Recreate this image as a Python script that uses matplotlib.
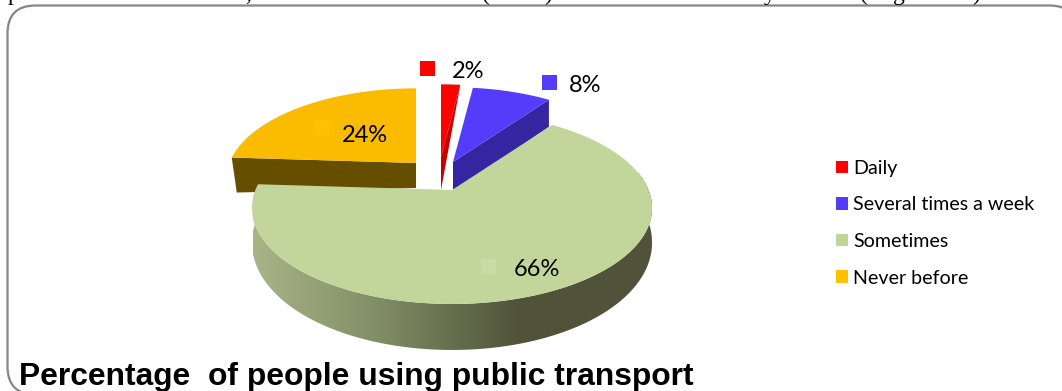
from matplotlib import pyplot as plt
from matplotlib.patches import FancyBboxPatch, Patch, Polygon
from matplotlib.colors import LinearSegmentedColormap
import numpy as np

categories = ["Daily", "Several times a week", "Sometimes", "Never before"]
shares = [2, 8, 66, 24]
labels = ["2%", "8%", "66%", "24%"]
colors = ["#FF0000", "#533DFB", "#C2D69B", "#FBBB00"]
side_colors = ["#C80000", "#3525A0", None, "#664E00"]

#screen position of the pie, in pixels
cx, cy = 452, 190
rx, ry = 196.5, 92.6
persp = 0.1875

#how far each slice is pulled out, size of the slice, depth at centre and at rim
shift_x = [-11, 1, 0, -36]
shift_y = [-33, -28, 0, -27]
scale = [0.92, 0.95, 1.0, 0.95]
depth_in = [33, 30, 30, 25]
depth_out = [0, 27, 30, 35]

#label position and position of the little key square
label_x = [468, 585, 537, 365]
label_y = [71, 86, 269, 136]
key_x = [427, 549, 488, 321]
key_y = [68, 82, 266, 127]
key_colors = ["#FF0000", "#533DFB", "#C8DBA4", "#FFC000"]

def project(t, s=1.0):
	#t is clockwise from the back of the pie, in radians
	px = np.sin(t) * s
	py = -np.cos(t) * s
	d = 1 - persp * py
	return rx * px / d, ry * py / d, py

def wedge(i, a0, a1):
	t = np.linspace(a0, a1, 120)
	x, y, py = project(t, scale[i])
	return x + cx + shift_x[i], y + cy + shift_y[i]

def draw_flat_slice(ax, i, a0, a1):
	x, y = wedge(i, a0, a1)
	ox, oy = cx + shift_x[i], cy + shift_y[i]
	if i == 3:
		#side of the yellow slice, the cut edge facing front
		side = [(ox, oy), (x[0], y[0]), (x[0] + 5, y[0] + depth_out[i]), (ox, oy + depth_in[i])]
	else:
		#side on the right hand cut edge
		side = [(ox, oy), (x[-1], y[-1]), (x[-1], y[-1] + depth_out[i]), (ox, oy + depth_in[i])]
	ax.add_patch(Polygon(side, closed=True, fc=side_colors[i], ec="none", zorder=2))
	top = np.column_stack([np.r_[ox, x], np.r_[oy, y]])
	ax.add_patch(Polygon(top, closed=True, fc=colors[i], ec="none", zorder=3))

def draw_big_slice(ax, i, a0, a1):
	#front wall first, with left to right shading
	t = np.linspace(np.pi * 0.44, a1, 200)
	x, y, py = project(t)
	x = x + cx
	y = y + cy
	low = y + 32 + 14 * py
	wall = np.column_stack([np.r_[x, x[::-1]], np.r_[y, low[::-1]]])
	shade = LinearSegmentedColormap.from_list("wall", ["#505339", "#505339", "#7E8A62", "#A9B587"])
	grad = np.linspace(0, 1, 256).reshape(1, -1)
	im = ax.imshow(grad, cmap=shade, extent=[653, 253, 400, 0], aspect="auto", zorder=4)
	poly = Polygon(wall, closed=True, transform=ax.transData, fc="none", ec="none")
	ax.add_patch(poly)
	im.set_clip_path(poly)
	xt, yt = wedge(i, a0, a1)
	top = np.column_stack([np.r_[cx, xt], np.r_[cy, yt]])
	ax.add_patch(Polygon(top, closed=True, fc=colors[i], ec="none", zorder=5))

def start():
	fig = plt.figure(figsize=(10.62, 3.91), dpi=100)
	ax = fig.add_axes([0, 0, 1, 1])

	frame = FancyBboxPatch((7.5, 5.5), 1070, 389, boxstyle="round,pad=0,rounding_size=28",
		fc="white", ec="#868686", lw=1.6, zorder=1)
	ax.add_patch(frame)

	#slice angles come from the shares
	edges = np.r_[0, np.cumsum(shares)] / sum(shares) * 2 * np.pi
	for i in [3, 0, 1]:
		draw_flat_slice(ax, i, edges[i], edges[i + 1])
	draw_big_slice(ax, 2, edges[2], edges[3])

	for i in range(4):
		ax.add_patch(Polygon([(key_x[i] - 7.5, key_y[i] - 7.5), (key_x[i] + 7.5, key_y[i] - 7.5),
			(key_x[i] + 7.5, key_y[i] + 7.5), (key_x[i] - 7.5, key_y[i] + 7.5)],
			closed=True, fc=key_colors[i], ec="none", zorder=6))
		ax.text(label_x[i], label_y[i], labels[i], fontsize=17, family="Lato", ha="center",
			va="center", color="black", zorder=7)

	handles = [Patch(fc=key_colors[i] if i != 2 else colors[i], ec="none") for i in range(4)]
	ax.legend(handles, categories, loc="upper left", bbox_to_anchor=(830 / 1062, 1 - 154 / 391),
		frameon=False, prop={"family": "Lato", "size": 14.1}, labelspacing=1.0,
		handlelength=0.62, handleheight=0.62, handletextpad=0.26, borderpad=0.3, borderaxespad=0)

	ax.text(19, 385, "Percentage  of people using public transport", fontsize=22.9, family="Liberation Sans",
		fontweight="bold", color="black", ha="left", va="baseline", zorder=7)

	#bottoms of the line of body text that the crop cuts off
	for x, s in [(8, "p"), (245, ","), (482, "("), (544, ")"), (764, "y"), (860, "("), (893, "g"), (972, ")")]:
		ax.text(x, 0, s, fontsize=17, family="Liberation Serif", color="black", ha="left", va="baseline")

	ax.set_xlim(0, 1062)
	ax.set_ylim(391, 0)
	ax.axis("off")
	fig.savefig("out.png", dpi=100)

start()
